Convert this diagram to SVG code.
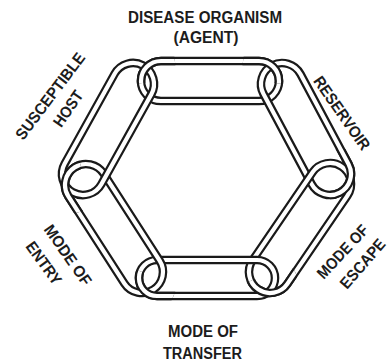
<svg xmlns="http://www.w3.org/2000/svg" xmlns:xlink="http://www.w3.org/1999/xlink" width="392" height="360" viewBox="0 0 392 360">
  <style>
    .lbl { font-family: "Liberation Sans", Arial, sans-serif; font-weight: bold; font-size: 16px; fill: #1c1c1c; text-anchor: middle; }
    .tb { fill: none; stroke: #1a1a1a; stroke-width: 8.6; }
    .tw { fill: none; stroke: #ffffff; stroke-width: 4.2; }
  </style>
  <defs>
    <!-- each chain link is a stadium centred on one side of the hexagon -->
    <rect id="r-t" x="-69" y="-20" width="138" height="40" rx="20" transform="translate(210 81)"/>
    <rect id="r-ur" x="-72" y="-21" width="144" height="42" rx="21" transform="translate(306 129) rotate(61.93)"/>
    <rect id="r-lr" x="-74.25" y="-21" width="148.5" height="42" rx="21" transform="translate(300 228) rotate(124.29)"/>
    <rect id="r-b" x="-68" y="-18" width="136" height="36" rx="18" transform="translate(207 278)"/>
    <rect id="r-ll" x="-72.7" y="-21" width="145.4" height="42" rx="21" transform="translate(114 228.5) rotate(57.23)"/>
    <rect id="r-ul" x="-72.5" y="-21" width="145" height="42" rx="21" transform="translate(108 129) rotate(119.05)"/>
    <!-- half-plane windows on the outer side of every joint, used to pass one link over the other -->
    <clipPath id="c-tl"><rect x="-30" y="0" width="60" height="30" transform="translate(147 82.5) rotate(173.9)"/></clipPath>
    <clipPath id="c-tr"><rect x="-30" y="-30" width="60" height="30" transform="translate(270.5 82.5) rotate(7.4)"/></clipPath>
    <clipPath id="c-r"><rect x="-30" y="-30" width="60" height="30" transform="translate(330 179) rotate(90)"/></clipPath>
    <clipPath id="c-br"><rect x="-30" y="-30" width="60" height="30" transform="translate(263.5 275) rotate(155.2)"/></clipPath>
    <clipPath id="c-bl"><rect x="-30" y="-30" width="60" height="30" transform="translate(149.5 275) rotate(-158.2)"/></clipPath>
    <clipPath id="c-l"><rect x="-30" y="-30" width="60" height="30" transform="translate(84.5 179.5) rotate(-105.3)"/></clipPath>
  </defs>

  <rect width="392" height="360" fill="#ffffff"/>

  <g id="chain">
    <g id="link-top"><use xlink:href="#r-t" class="tb"/><use xlink:href="#r-t" class="tw"/></g>
    <g id="link-upper-right"><use xlink:href="#r-ur" class="tb"/><use xlink:href="#r-ur" class="tw"/></g>
    <g id="link-lower-right"><use xlink:href="#r-lr" class="tb"/><use xlink:href="#r-lr" class="tw"/></g>
    <g id="link-bottom"><use xlink:href="#r-b" class="tb"/><use xlink:href="#r-b" class="tw"/></g>
    <g id="link-lower-left"><use xlink:href="#r-ll" class="tb"/><use xlink:href="#r-ll" class="tw"/></g>
    <g id="link-upper-left"><use xlink:href="#r-ul" class="tb"/><use xlink:href="#r-ul" class="tw"/></g>
    <!-- over-crossings at the joints -->
    <g id="joints">
      <g clip-path="url(#c-tl)"><use xlink:href="#r-t" class="tb"/><use xlink:href="#r-t" class="tw"/></g>
      <g clip-path="url(#c-tr)"><use xlink:href="#r-t" class="tb"/><use xlink:href="#r-t" class="tw"/></g>
      <g clip-path="url(#c-r)"><use xlink:href="#r-ur" class="tb"/><use xlink:href="#r-ur" class="tw"/></g>
      <g clip-path="url(#c-br)"><use xlink:href="#r-lr" class="tb"/><use xlink:href="#r-lr" class="tw"/></g>
      <g clip-path="url(#c-bl)"><use xlink:href="#r-b" class="tb"/><use xlink:href="#r-b" class="tw"/></g>
      <g clip-path="url(#c-l)"><use xlink:href="#r-ll" class="tb"/><use xlink:href="#r-ll" class="tw"/></g>
    </g>
  </g>

  <g id="agent">
    <text class="lbl" x="205" y="23" textLength="154" lengthAdjust="spacingAndGlyphs">DISEASE ORGANISM</text>
    <text class="lbl" x="206" y="43" textLength="65" lengthAdjust="spacingAndGlyphs">(AGENT)</text>
  </g>
  <g id="reservoir">
    <text class="lbl" x="0" y="5.7" textLength="86" lengthAdjust="spacingAndGlyphs" transform="translate(342 113) rotate(55)">RESERVOIR</text>
  </g>
  <g id="escape">
    <text class="lbl" x="0" y="5.7" textLength="67" lengthAdjust="spacingAndGlyphs" transform="translate(342.5 251.5) rotate(-47)">MODE OF</text>
    <text class="lbl" x="0" y="5.7" textLength="60" lengthAdjust="spacingAndGlyphs" transform="translate(362.5 263.5) rotate(-49)">ESCAPE</text>
  </g>
  <g id="transfer">
    <text class="lbl" x="203" y="337" textLength="70" lengthAdjust="spacingAndGlyphs">MODE OF</text>
    <text class="lbl" x="202.5" y="358.5" textLength="79" lengthAdjust="spacingAndGlyphs">TRANSFER</text>
  </g>
  <g id="entry">
    <text class="lbl" x="0" y="5.7" textLength="70" lengthAdjust="spacingAndGlyphs" transform="translate(68 255) rotate(55)">MODE OF</text>
    <text class="lbl" x="0" y="5.7" textLength="49" lengthAdjust="spacingAndGlyphs" transform="translate(44 263) rotate(54)">ENTRY</text>
  </g>
  <g id="host">
    <text class="lbl" x="0" y="5.7" textLength="104" lengthAdjust="spacingAndGlyphs" transform="translate(50 96) rotate(-53)">SUSCEPTIBLE</text>
    <text class="lbl" x="0" y="5.7" textLength="40" lengthAdjust="spacingAndGlyphs" transform="translate(68 108.5) rotate(-55)">HOST</text>
  </g>
</svg>
